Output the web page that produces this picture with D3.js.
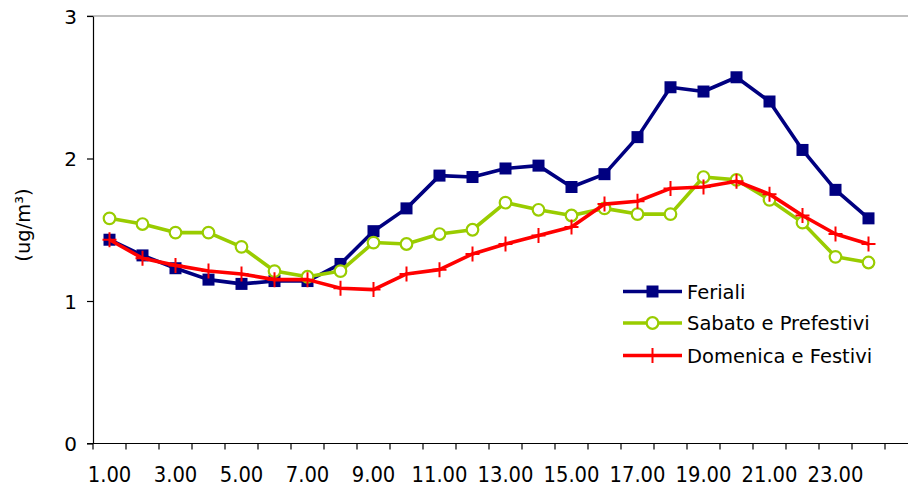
<!DOCTYPE html>
<html>
<head>
<meta charset="utf-8">
<script src="https://cdn.jsdelivr.net/npm/d3@7"></script>
<style>
  html, body { margin: 0; padding: 0; background: #fff; }
  svg { display: block; }
  text { font-family: "DejaVu Sans", Verdana, sans-serif; fill: #000; }
</style>
</head>
<body>
<svg id="chart" width="908" height="491"></svg>
<script>
// Hourly concentration profile (ug/m³) by day type
const hours = d3.range(1, 25);
const hourLabels = hours.map(h => h.toFixed(2));
const yTicks = [0, 1, 2, 3];

const feriali = [1.43, 1.32, 1.23, 1.15, 1.12, 1.14, 1.14, 1.26, 1.49, 1.65, 1.88, 1.87,
                 1.93, 1.95, 1.80, 1.89, 2.15, 2.50, 2.47, 2.57, 2.40, 2.06, 1.78, 1.58];
const sabato = [1.58, 1.54, 1.48, 1.48, 1.38, 1.21, 1.17, 1.21, 1.41, 1.40, 1.47, 1.50,
                1.69, 1.64, 1.60, 1.65, 1.61, 1.61, 1.87, 1.85, 1.71, 1.55, 1.31, 1.27];
const domenica = [1.43, 1.30, 1.25, 1.21, 1.19, 1.15, 1.15, 1.09, 1.08, 1.19, 1.22, 1.33,
                  1.40, 1.46, 1.52, 1.68, 1.70, 1.79, 1.80, 1.84, 1.75, 1.60, 1.47, 1.40];

const seriesNames = ["Feriali", "Sabato e Prefestivi", "Domenica e Festivi"];
const seriesValues = [feriali, sabato, domenica];
const seriesColors = ["#000080", "#99CC00", "#FF0000"];
const seriesMarkers = ["square", "circle", "plus"];

const svg = d3.select("#chart");
const plotLeft = 93, plotRight = 885, plotTop = 16, plotBottom = 443.5;

const x = d3.scaleBand().domain(hours).range([plotLeft, plotRight]).padding(0);
const y = d3.scaleLinear().domain([0, 3]).range([plotBottom, plotTop]);

// plot area top border
svg.append("line")
  .attr("x1", plotLeft - 6).attr("x2", 908)
  .attr("y1", y(3)).attr("y2", y(3))
  .attr("stroke", "#808080").attr("stroke-width", 1.2);

// y axis
const yAxis = svg.append("g")
  .attr("transform", `translate(${plotLeft},0)`)
  .call(d3.axisLeft(y).tickValues(yTicks).tickFormat(d3.format("d")).tickSize(6).tickSizeOuter(0).tickPadding(10));
yAxis.select(".domain").attr("stroke", "#000").attr("stroke-width", 1.2);
yAxis.selectAll(".tick line").attr("stroke", "#000").attr("stroke-width", 1.2);
yAxis.selectAll(".tick text")
  .style("font-size", "20px")
  .attr("font-family", "DejaVu Sans")
  .attr("dy", "0.36em");

// x axis: ticks on band boundaries, labels on odd hours
const xAxisG = svg.append("g").attr("transform", `translate(0,${plotBottom})`);
xAxisG.append("line")
  .attr("x1", plotLeft - 6).attr("x2", 908)
  .attr("y1", 0).attr("y2", 0)
  .attr("stroke", "#000").attr("stroke-width", 1.2);
xAxisG.selectAll("line.tk")
  .data(hours.concat([25]))
  .join("line")
  .attr("class", "tk")
  .attr("x1", d => d <= 24 ? x(d) : x(24) + x.bandwidth())
  .attr("x2", d => d <= 24 ? x(d) : x(24) + x.bandwidth())
  .attr("y1", 0).attr("y2", 6)
  .attr("stroke", "#000").attr("stroke-width", 1.2);
xAxisG.selectAll("text")
  .data(hours.filter(h => h % 2 === 1))
  .join("text")
  .attr("transform", d => `translate(${x(d) + x.bandwidth() / 2},38.5) scale(0.91,1)`)
  .attr("text-anchor", "middle")
  .style("font-size", "21.5px")
  .text(d => hourLabels[d - 1]);

// y axis title
svg.append("text")
  .attr("transform", `translate(30,225) rotate(-90)`)
  .attr("text-anchor", "middle")
  .style("font-size", "19.5px")
  .text("(ug/m³)");

function drawMarker(g, type, color) {
  if (type === "square") {
    g.append("rect").attr("x", -6).attr("y", -6).attr("width", 12).attr("height", 12)
      .attr("fill", color);
  } else if (type === "circle") {
    g.append("circle").attr("r", 5.8).attr("fill", "#fff")
      .attr("stroke", color).attr("stroke-width", 2.2);
  } else {
    g.append("path").attr("d", "M-7,0H7M0,-7.5V7.5")
      .attr("stroke", color).attr("stroke-width", 2).attr("fill", "none");
  }
}

const line = d3.line()
  .x((d, i) => x(hours[i]) + x.bandwidth() / 2)
  .y(d => y(d));

seriesValues.forEach((vals, si) => {
  const g = svg.append("g");
  g.append("path")
    .datum(vals)
    .attr("d", line)
    .attr("fill", "none")
    .attr("stroke", seriesColors[si])
    .attr("stroke-width", 3.6)
    .attr("stroke-linejoin", "round");
  g.selectAll("g.m")
    .data(vals)
    .join("g")
    .attr("class", "m")
    .attr("transform", (d, i) => `translate(${x(hours[i]) + x.bandwidth() / 2},${y(d)})`)
    .each(function () { drawMarker(d3.select(this), seriesMarkers[si], seriesColors[si]); });
});

// legend
const legendRows = [291.5, 323, 355.5];
seriesNames.forEach((name, si) => {
  const g = svg.append("g").attr("transform", `translate(623,${legendRows[si]})`);
  g.append("line").attr("x1", 0).attr("x2", 59).attr("y1", 0).attr("y2", 0)
    .attr("stroke", seriesColors[si]).attr("stroke-width", 3.6);
  const m = g.append("g").attr("transform", "translate(29.5,0)");
  drawMarker(m, seriesMarkers[si], seriesColors[si]);
  g.append("text").attr("x", 64).attr("y", 0).attr("dy", "0.36em")
    .style("font-size", "19.5px")
    .text(name);
});
</script>
</body>
</html>
